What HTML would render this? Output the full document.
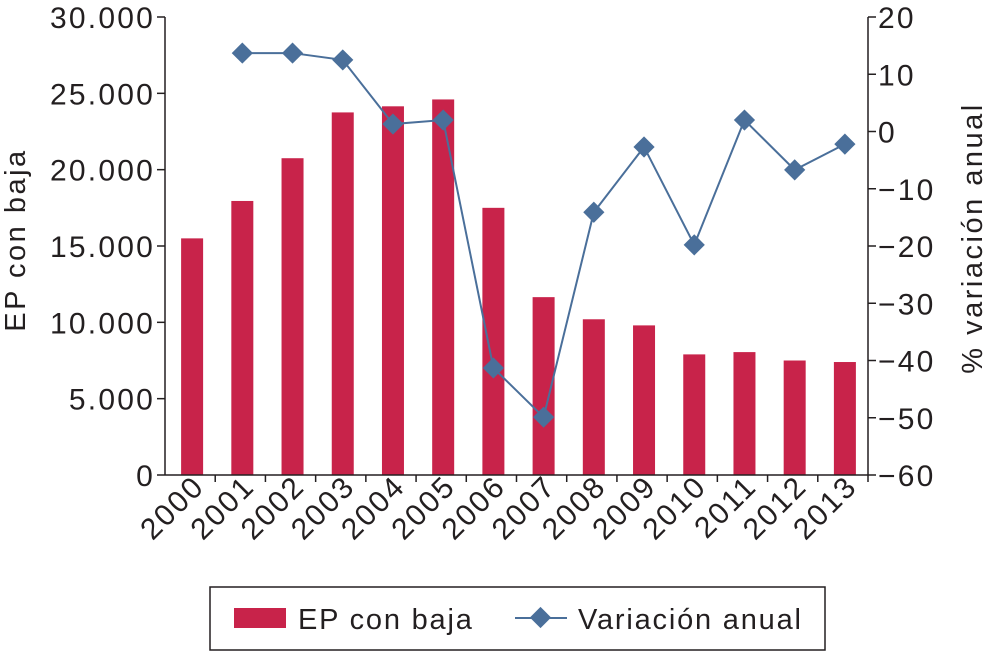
<!DOCTYPE html>
<html><head><meta charset="utf-8"><style>
body{margin:0;background:#fff;}
svg text{font-family:"Liberation Sans",sans-serif;fill:#231f20;}
</style></head><body>
<svg id="chart" width="990" height="652" viewBox="0 0 990 652" xmlns="http://www.w3.org/2000/svg">
<g id="bars"></g>
<g id="axes"></g>
<polyline id="line" fill="none" stroke="#4a6f9a" stroke-width="2"></polyline>
<g id="markers"></g>
<text transform="translate(25,240) rotate(-90)" text-anchor="middle" font-size="29" letter-spacing="2.5">EP con baja</text>
<text transform="translate(982,238) rotate(-90)" text-anchor="middle" font-size="29" letter-spacing="2.5">% variación anual</text>
<g>
<rect x="210" y="587" width="615" height="63" fill="#fff" stroke="#231f20" stroke-width="1.5"/>
<rect x="234" y="608" width="52" height="20" fill="#c8234a"/>
<text x="298" y="629" font-size="29" letter-spacing="1.8">EP con baja</text>
<line x1="515" y1="618" x2="567" y2="618" stroke="#4a6f9a" stroke-width="2"/>
<rect x="533" y="610" width="15" height="15" fill="#4a6f9a" transform="rotate(45 540.5 617.5)"/>
<text x="578" y="629" font-size="29" letter-spacing="1.8">Variación anual</text>
</g>
</svg>
<script>
const years=["2000","2001","2002","2003","2004","2005","2006","2007","2008","2009","2010","2011","2012","2013"];
const epValues=[15500,17950,20750,23750,24150,24600,17500,11650,10200,9800,7900,8050,7500,7400];
const variation=[null,13.7,13.7,12.5,1.3,2.0,-41.3,-49.9,-14.1,-2.7,-19.8,2.0,-6.7,-2.2];
const leftTicks=[0,5000,10000,15000,20000,25000,30000];
const leftTickLabels=["0","5.000","10.000","15.000","20.000","25.000","30.000"];
const rightTicks=[-60,-50,-40,-30,-20,-10,0,10,20];
const rightTickLabels=["−60","−50","−40","−30","−20","−10","0","10","20"];
const NS="http://www.w3.org/2000/svg";
const X0=165,X1=868,Y0=475,Y1=17;
const step=(X1-X0)/years.length;
const xC=i=>X0+step*(i+0.5)+2;
const yL=v=>Y0-(v/30000)*(Y0-Y1);
const yR=v=>Y0-((v+60)/80)*(Y0-Y1);
function mk(t,a,p){const e=document.createElementNS(NS,t);for(const k in a)e.setAttribute(k,a[k]);p.appendChild(e);return e;}
const bars=document.getElementById('bars'),axes=document.getElementById('axes');
epValues.forEach((v,i)=>{
 const r=mk('rect',{x:xC(i)-11,y:yL(v),width:22,height:Y0-yL(v),fill:'#c8234a'},bars);
 
 
});
mk('line',{x1:X0,y1:Y1,x2:X0,y2:Y0,stroke:'#231f20','stroke-width':1.5},axes);
mk('line',{x1:X1,y1:Y1,x2:X1,y2:Y0,stroke:'#231f20','stroke-width':1.5},axes);
mk('line',{x1:X0,y1:Y0,x2:X1,y2:Y0,stroke:'#231f20','stroke-width':1.5},axes);
leftTicks.forEach((v,i)=>{
 mk('line',{x1:X0-8,y1:yL(v),x2:X0,y2:yL(v),stroke:'#231f20','stroke-width':1.5},axes);
 const t=mk('text',{x:X0-10,y:yL(v)+11,'text-anchor':'end','font-size':30,'letter-spacing':2.2},axes);t.textContent=leftTickLabels[i];
 
 
});
rightTicks.forEach((v,i)=>{
 mk('line',{x1:X1,y1:yR(v),x2:X1+8,y2:yR(v),stroke:'#231f20','stroke-width':1.5},axes);
 const t=mk('text',{x:X1+10,y:yR(v)+11,'text-anchor':'start','font-size':30,'letter-spacing':2.2},axes);t.textContent=rightTickLabels[i];
 
 
});
years.forEach((y,i)=>{
 const x=X0+step*(i+1);
 mk('line',{x1:x,y1:Y0,x2:x,y2:Y0+7,stroke:'#231f20','stroke-width':1.5},axes);
 const t=mk('text',{transform:`translate(${xC(i)+14},${Y0+13}) rotate(-45)`,'text-anchor':'end','font-size':30,'letter-spacing':2.2},axes);t.textContent=y;
 
 
});
const pts=[];const mg=document.getElementById('markers');
variation.forEach((v,i)=>{
 if(v===null)return;
 const x=xC(i),y=yR(v);pts.push(x+','+y);
 const m=mk('rect',{x:x-7.5,y:y-7.5,width:15,height:15,fill:'#4a6f9a',transform:`rotate(45 ${x} ${y})`},mg);
 
 
});
document.getElementById('line').setAttribute('points',pts.join(' '));
</script>
</body></html>
